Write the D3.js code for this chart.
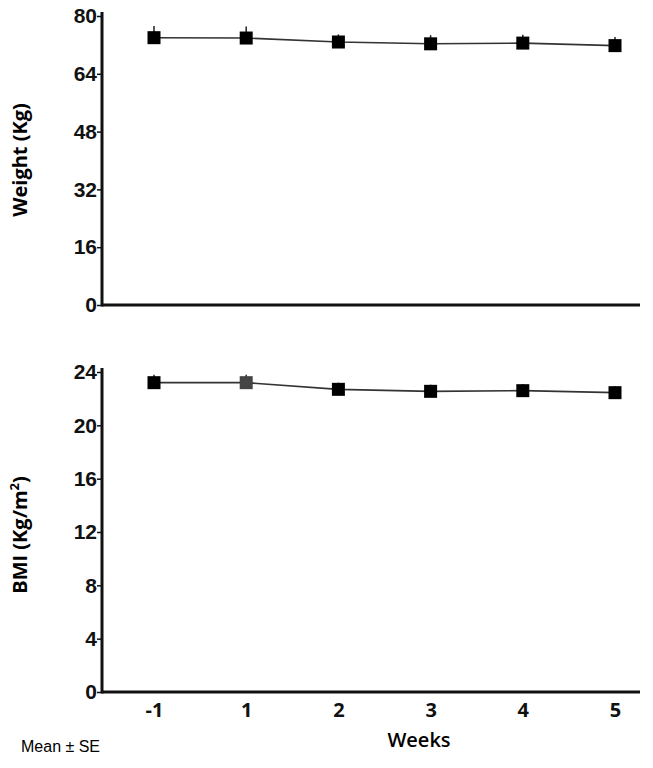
<!DOCTYPE html>
<html>
<head>
<meta charset="utf-8">
<script src="https://cdn.jsdelivr.net/npm/d3@7"></script>
<style>
  body { margin: 0; background: #fff; }
  svg { display: block; }
  .tick text { font-family: "Liberation Sans", Arial, sans-serif; font-weight: bold; font-size: 21px; fill: #111; }
  .xlab .tick text { font-family: "Open Sans", sans-serif; font-size: 20px; }
</style>
</head>
<body>
<svg width="653" height="768"></svg>
<script>
// values
var weeks = ["-1", "1", "2", "3", "4", "5"];
var weight = [74.0, 73.9, 72.8, 72.3, 72.5, 71.8];
var weightSE = [3.2, 3.2, 2.1, 2.4, 2.3, 2.4];
var bmi = [23.2, 23.2, 22.7, 22.55, 22.6, 22.45];
var bmiSE = [0.6, 0.6, 0.5, 0.5, 0.5, 0.5];
var weightTicks = [0, 16, 32, 48, 64, 80];
var bmiTicks = [0, 4, 8, 12, 16, 20, 24];

var svg = d3.select("svg");

var left = 102, right = 640;
var x = d3.scalePoint().domain(weeks).range([left + 52, right - 25]);

function panel(vals, se, ticks, yTop, yBottom, grayIdx) {
  var y = d3.scaleLinear().domain([0, d3.max(ticks)]).range([yBottom, yTop]);
  var g = svg.append("g");

  var yAxis = g.append("g")
      .attr("transform", "translate(" + left + ",0)")
      .call(d3.axisLeft(y).tickValues(ticks).tickSize(5).tickSizeOuter(0).tickPadding(0));
  yAxis.select(".domain").remove();
  yAxis.selectAll(".tick line").attr("stroke", "#111").attr("stroke-width", 1.5);

  // axis frame
  g.append("line")
      .attr("x1", left).attr("x2", left)
      .attr("y1", yBottom + 1.5).attr("y2", yTop - 4)
      .attr("stroke", "#111").attr("stroke-width", 3);
  g.append("line")
      .attr("x1", left).attr("x2", right)
      .attr("y1", yBottom).attr("y2", yBottom)
      .attr("stroke", "#111").attr("stroke-width", 3);

  // error bars (upper half only)
  g.selectAll(".err")
    .data(vals)
    .enter().append("line")
      .attr("class", "err")
      .attr("x1", function(d, i) { return x(weeks[i]); })
      .attr("x2", function(d, i) { return x(weeks[i]); })
      .attr("y1", function(d) { return y(d); })
      .attr("y2", function(d, i) { return y(d + se[i]); })
      .attr("stroke", "#222").attr("stroke-width", 1.5);

  var line = d3.line()
      .x(function(d, i) { return x(weeks[i]); })
      .y(function(d) { return y(d); });
  g.append("path")
      .datum(vals)
      .attr("d", line)
      .attr("fill", "none")
      .attr("stroke", "#333")
      .attr("stroke-width", 1.6);

  var s = 13;
  g.selectAll(".pt")
    .data(vals)
    .enter().append("rect")
      .attr("class", "pt")
      .attr("x", function(d, i) { return x(weeks[i]) - s / 2; })
      .attr("y", function(d) { return y(d) - s / 2; })
      .attr("width", s).attr("height", s)
      .attr("fill", function(d, i) { return i === grayIdx ? "#444" : "#000"; });

  return g;
}

panel(weight, weightSE, weightTicks, 16, 305, -1);
panel(bmi, bmiSE, bmiTicks, 372, 692, 1);

// x tick labels under the lower panel
var xAxis = svg.append("g")
    .attr("class", "xlab")
    .attr("transform", "translate(0,692)")
    .call(d3.axisBottom(x).tickSize(0).tickPadding(11));
xAxis.select(".domain").remove();

svg.append("text")
    .attr("transform", "translate(27,160) rotate(-90)")
    .attr("text-anchor", "middle")
    .style("font-family", "'Open Sans', sans-serif")
    .style("font-weight", "bold")
    .style("font-size", "20px")
    .text("Weight (Kg)");

var bmiLab = svg.append("text")
    .attr("transform", "translate(27,535) rotate(-90)")
    .attr("text-anchor", "middle")
    .style("font-family", "'Open Sans', sans-serif")
    .style("font-weight", "bold")
    .style("font-size", "20px");
bmiLab.append("tspan").text("BMI (Kg/m");
bmiLab.append("tspan").attr("dy", -8).style("font-size", "13px").text("2");
bmiLab.append("tspan").attr("dy", 8).text(")");

svg.append("text")
    .attr("x", 419).attr("y", 747)
    .attr("text-anchor", "middle")
    .style("font-family", "'Open Sans', sans-serif")
    .style("font-weight", "600")
    .style("font-size", "20px")
    .text("Weeks");

svg.append("text")
    .attr("x", 21).attr("y", 752)
    .style("font-family", "'Liberation Sans', Arial, sans-serif")
    .style("font-size", "16px")
    .text("Mean ± SE");
</script>
</body>
</html>
